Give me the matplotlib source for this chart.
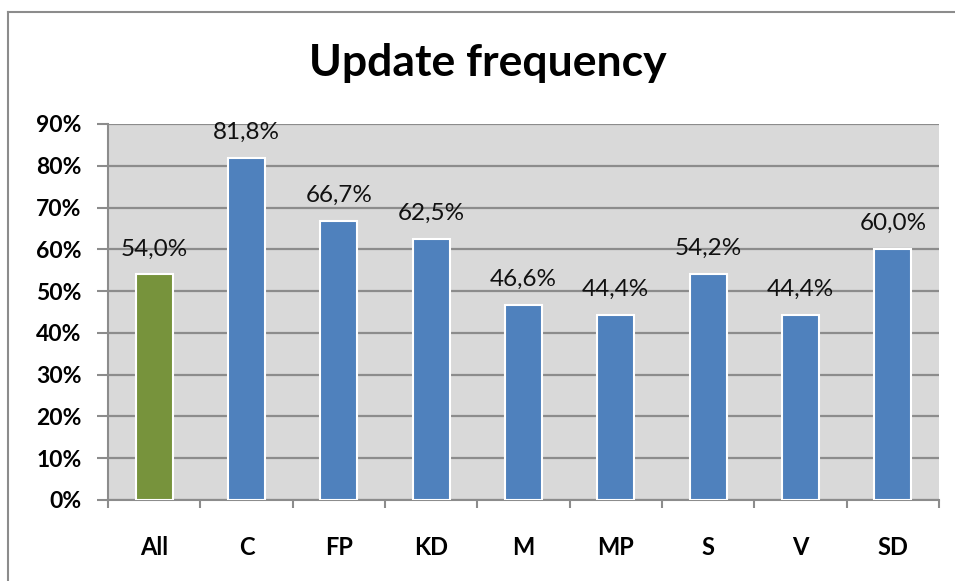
import matplotlib
matplotlib.use('Agg')
import matplotlib.pyplot as plt
from matplotlib.lines import Line2D
import numpy as np

# data
categories = ['All', 'C', 'FP', 'KD', 'M', 'MP', 'S', 'V', 'SD']
values = [54.0, 81.8, 66.7, 62.5, 46.6, 44.4, 54.2, 44.4, 60.0]
yticks = [0, 10, 20, 30, 40, 50, 60, 70, 80, 90]

green = '#77933C'
blue = '#4F81BD'
colors = [green] + [blue] * (len(categories) - 1)

plt.rcParams['font.family'] = ['Lato', 'DejaVu Sans']

fig = plt.figure(figsize=(9.55, 5.81), dpi=100)
ax = fig.add_axes([108/955, 1 - 500/581, (939-108)/955, (500-124)/581])
ax.set_facecolor('#D9D9D9')

x = np.arange(len(categories))
ax.bar(x, values, width=0.4, color=colors, edgecolor='white', linewidth=1.5, zorder=3)

for xi, v in zip(x, values):
    ax.text(xi, v + 3.6, f'{v:.1f}%'.replace('.', ','), ha='center', va='bottom',
            fontsize=17.5, color='#111111', zorder=4)

ax.set_xlim(-0.5, len(categories) - 0.5)
ax.set_ylim(0, 90)
ax.set_yticks(yticks)
ax.set_yticklabels([f'{t}%' for t in yticks], fontweight='bold', fontsize=16.5)
ax.yaxis.grid(True, color='#8C8C8C', linewidth=1.6, zorder=1)
ax.set_axisbelow(True)

ax.set_xticks(x)
ax.set_xticklabels(categories, fontweight='bold', fontsize=17)
ax.set_xticks(np.arange(-0.5, len(categories)), minor=True)
ax.tick_params(axis='x', which='major', length=0, pad=26)
ax.tick_params(axis='x', which='minor', length=6, width=1.5, color='#8C8C8C')
ax.tick_params(axis='y', length=8, width=1.5, color='#8C8C8C', pad=11)

for s in ['top', 'right']:
    ax.spines[s].set_visible(False)
for s in ['left', 'bottom']:
    ax.spines[s].set_color('#8C8C8C')
    ax.spines[s].set_linewidth(1.5)

fig.text(488/955, 1 - 63/581, 'Update frequency', ha='center', va='center',
         fontsize=32, fontweight='bold')

# chart border
fig.add_artist(Line2D([8/955, 8/955], [0, 1 - 12/581], color='#8C8C8C', linewidth=1.5))
fig.add_artist(Line2D([8/955, 1], [1 - 12/581, 1 - 12/581], color='#8C8C8C', linewidth=1.5))

fig.savefig('out.png', dpi=100)
